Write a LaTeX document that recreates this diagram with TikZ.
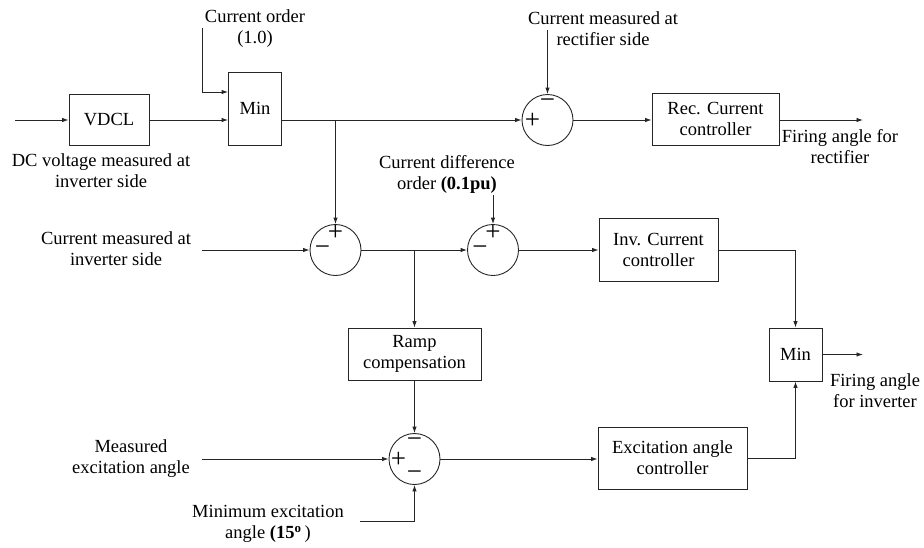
\documentclass[tikz,border=0pt]{standalone}
\usepackage{fontspec}
\setmainfont{Liberation Serif}
\usetikzlibrary{arrows.meta}
\begin{document}
\begin{tikzpicture}[x=1pt,y=-1pt,
  every node/.style={font=\fontsize{18.5}{21}\selectfont},
  wire/.style={line width=0.9pt,draw=black!85},
  sig/.style={wire,-{Latex[length=6.5pt,width=4.5pt]}},
  block/.style={draw=black!85,line width=0.9pt,rectangle,inner sep=0pt,align=center},
  summer/.style={draw=black!85,line width=0.9pt,circle,minimum size=51pt,inner sep=0pt},
  lbl/.style={align=center,inner sep=0pt},
  sgn/.style={inner sep=0pt,font=\fontsize{27}{27}\selectfont}]
\useasboundingbox (0,0) rectangle (924,547);

% blocks
\node[block,minimum width=80pt,minimum height=51pt] (vdcl) at (109,120) {VDCL};
\node[block,minimum width=53pt,minimum height=73pt] (min1) at (255,108.5) {Min};
\node[block,minimum width=127pt,minimum height=52pt] (rec) at (715.5,119) {Rec. Current\\controller};
\node[block,minimum width=119pt,minimum height=63pt] (inv) at (658.5,249.5) {Inv. Current\\controller};
\node[block,minimum width=53pt,minimum height=53pt] (min2) at (795.5,354.5) {Min};
\node[block,minimum width=133pt,minimum height=52pt] (ramp) at (414.5,354) {Ramp\\compensation};
\node[block,minimum width=149pt,minimum height=62pt] (exc) at (672.5,458) {Excitation angle\\controller};

% summing junctions
\node[summer] (s1) at (547.5,120) {};
\node[summer] (s2) at (335.5,250) {};
\node[summer] (s3) at (493,250) {};
\node[summer] (s4) at (414.5,459) {};

% signs
\node[sgn] at (547.5,103.5) {−};
\node[sgn] at (532.5,120.5) {+};
\node[sgn] at (335.5,233) {+};
\node[sgn] at (322.5,251) {−};
\node[sgn] at (493,232.5) {+};
\node[sgn] at (480,250.5) {−};
\node[sgn] at (414.5,443) {−};
\node[sgn] at (398.5,459.5) {+};
\node[sgn] at (414.5,476) {−};

% labels
\node[lbl] (lco) at (255,29) {Current order\\(1.0)};
\node[lbl] (ldc) at (101,171) {DC voltage measured at\\inverter side};
\node[lbl] (lcr) at (603,29) {Current measured at\\rectifier side};
\node[lbl] (lfr) at (840,147) {Firing angle for\\rectifier};
\node[lbl] (lcd) at (447,174) {Current difference\\order \textbf{(0.1pu)}};
\node[lbl] (lci) at (116,249) {Current measured at\\inverter side};
\node[lbl] (lfi) at (875,391) {Firing angle\\for inverter};
\node[lbl] (lme) at (131,459) {Measured\\excitation angle};
\node[lbl] (lmn) at (268,524) {Minimum excitation\\angle \textbf{(15\textsuperscript{o}}\,)};

% free ends
\coordinate (in1) at (15,120);
\coordinate (co) at (202,28);
\coordinate (cr) at (547.5,30);
\coordinate (out1) at (863,120);
\coordinate (in2) at (202,250);
\coordinate (cd) at (493,195);
\coordinate (out2) at (863,354.5);
\coordinate (in3) at (202,459);
\coordinate (mn) at (360,521);

% top row
\draw[sig] (in1) -- (vdcl.west);
\draw[sig] (vdcl.east) -- (vdcl.east -| min1.west);
\draw[sig] (co) |- ([yshift=16.5pt]min1.west);
\draw[sig] (min1.east |- s1.west) -- (s1.west);
\draw[sig] (cr) -- (s1.north);
\draw[sig] (s1.east) -- (s1.east -| rec.west);
\draw[sig] (rec.east |- s1.east) -- (out1);

% middle row
\draw[sig] (s2 |- s1.west) -- (s2.north);
\draw[sig] (in2) -- (s2.west);
\draw[sig] (s2.east) -- (s3.west);
\draw[sig] (cd) -- (s3.north);
\draw[sig] (ramp.north |- s2.east) -- (ramp.north);
\draw[sig] (s3.east) -- (s3.east -| inv.west);
\draw[sig] (inv.east |- s3.east) -| (min2.north);
\draw[sig] (min2.east) -- (out2);

% bottom row
\draw[sig] (ramp.south) -- (s4.north);
\draw[sig] (in3) -- (s4.west);
\draw[sig] (mn) -| (s4.south);
\draw[sig] (s4.east) -- (s4.east -| exc.west);
\draw[sig] (exc.east) -| (min2.south);
\end{tikzpicture}
\end{document}
